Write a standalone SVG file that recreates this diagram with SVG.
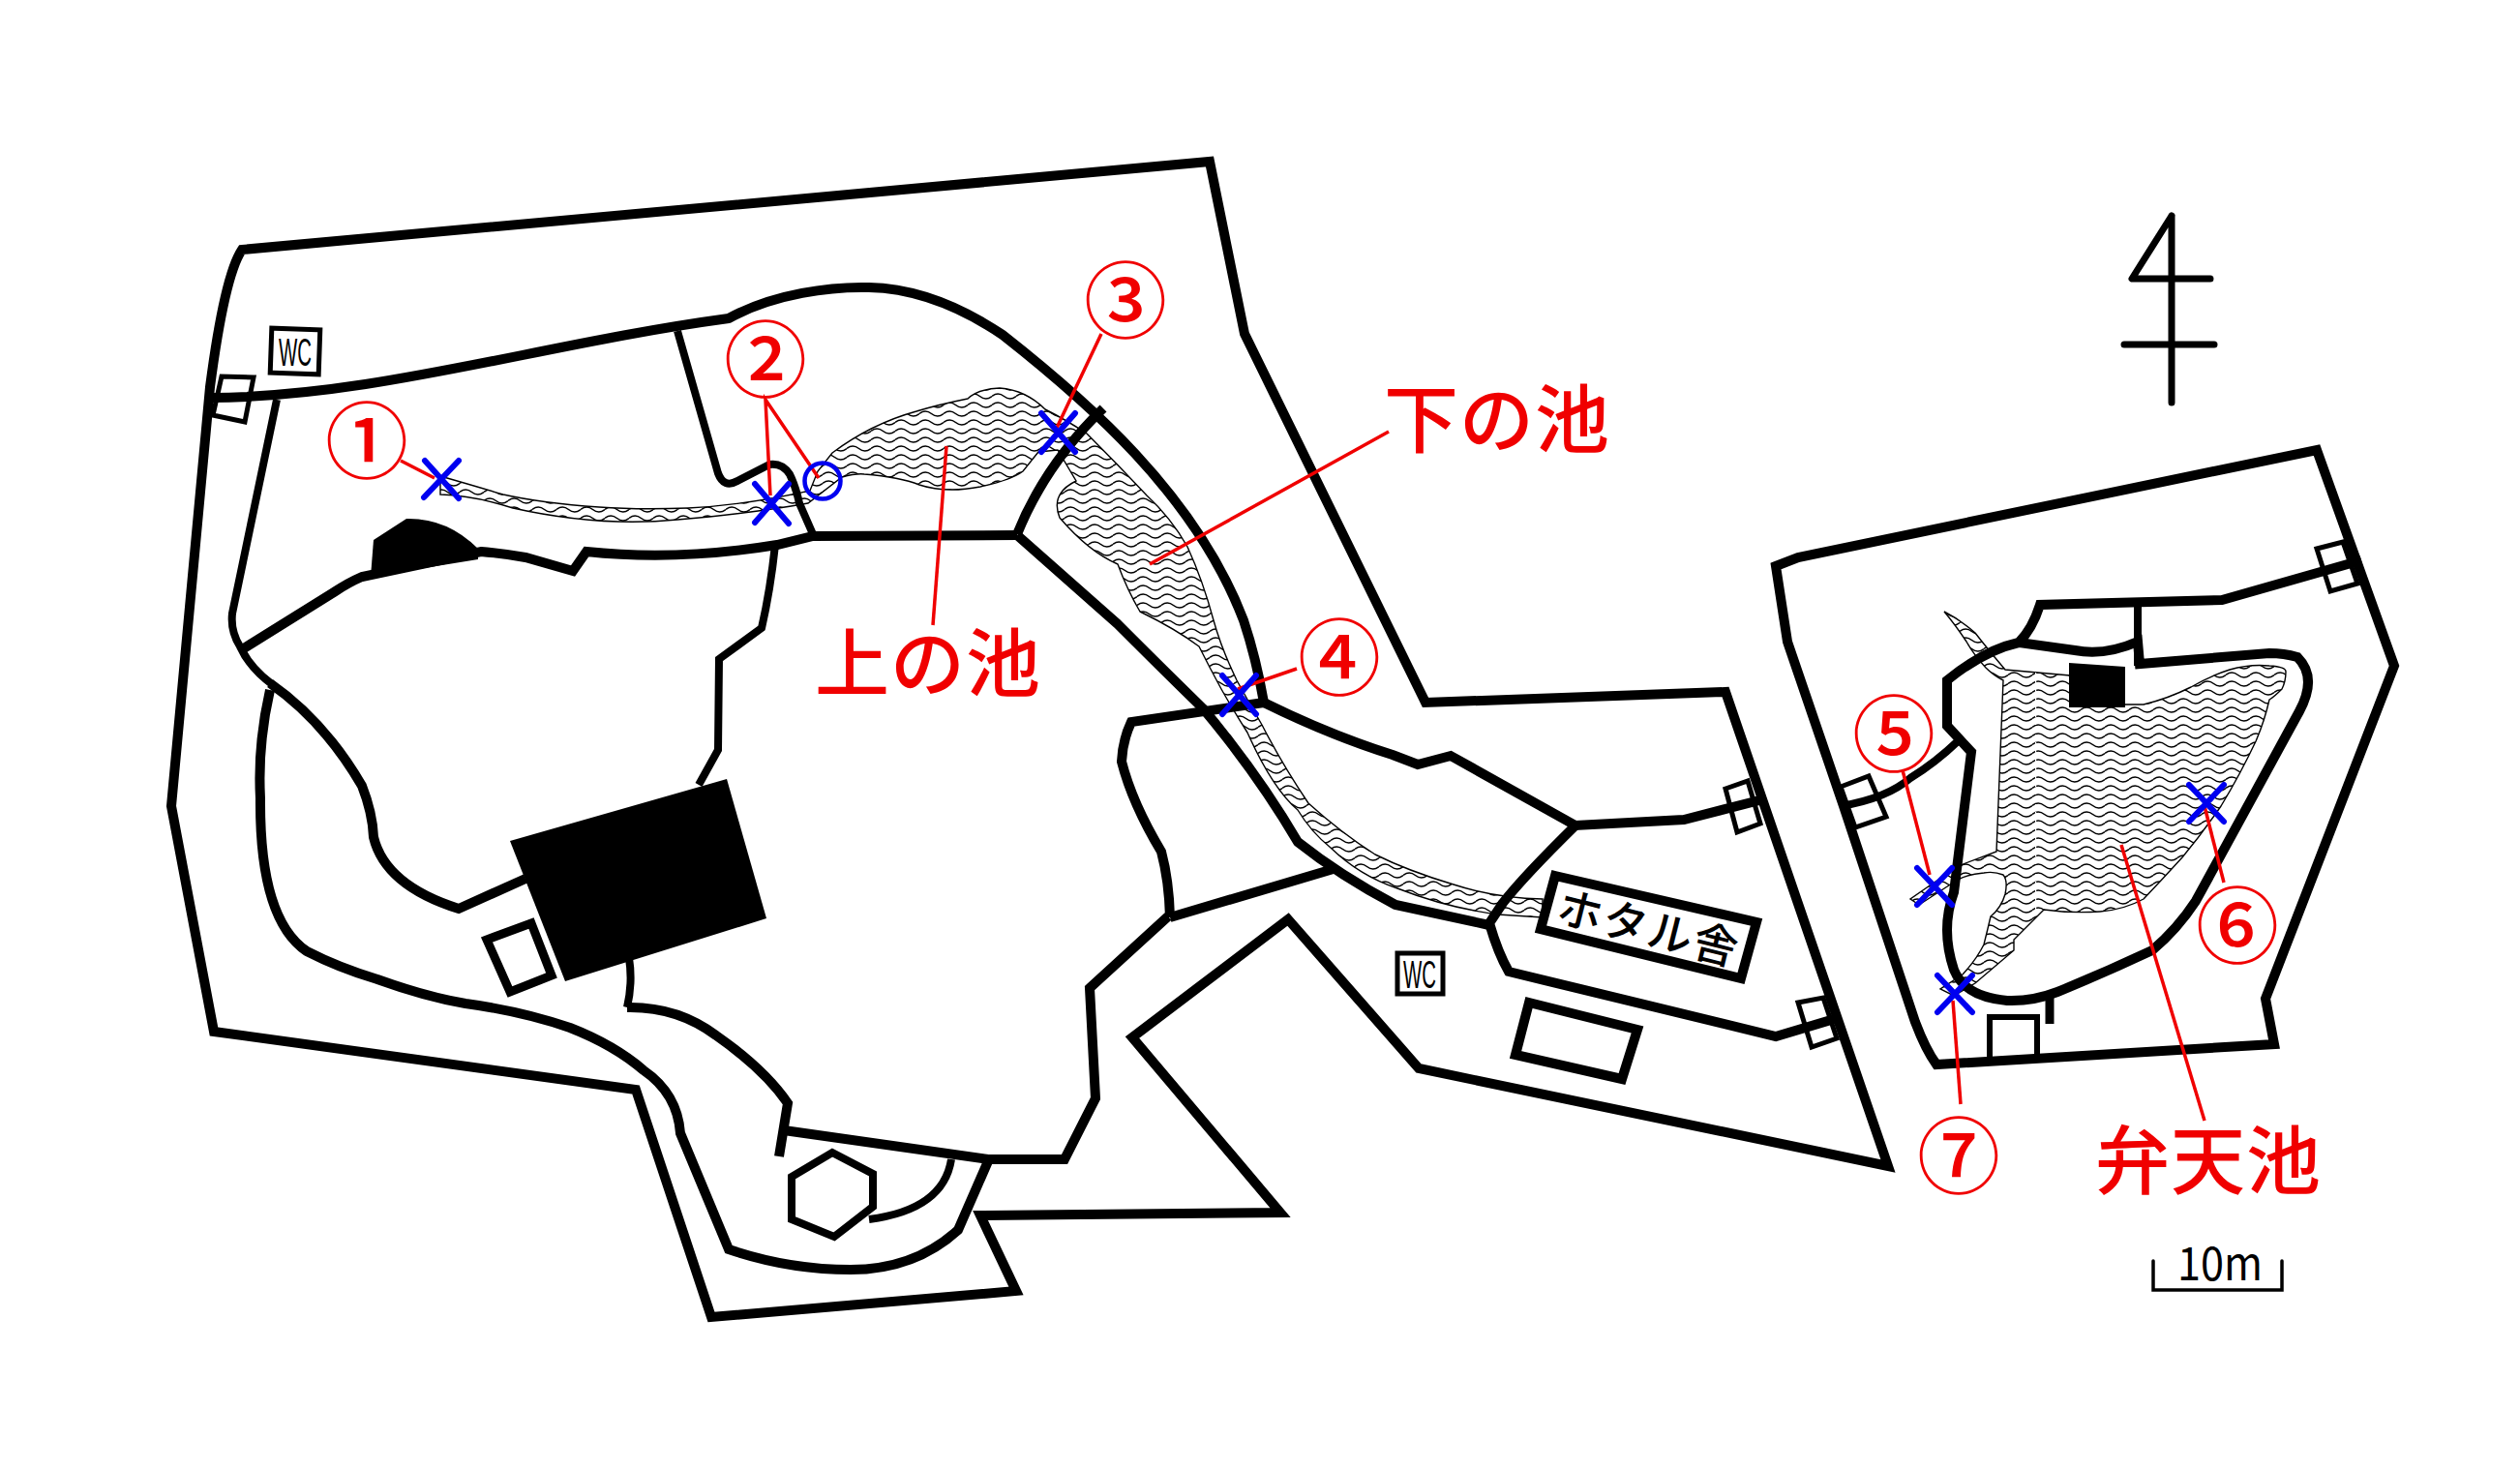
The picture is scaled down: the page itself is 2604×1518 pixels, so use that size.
<svg xmlns="http://www.w3.org/2000/svg" width="2604" height="1518" viewBox="0 0 2604 1518">
<style>
.r{fill:none;stroke:#000;stroke-width:10;stroke-linejoin:miter}
.t{fill:none;stroke:#000;stroke-width:8}
.g{fill:#fff;stroke:#000;stroke-width:5}
.b{fill:#000;stroke:none}
.h{fill:#fff;stroke:#000;stroke-width:10}
.pond{fill:url(#w);stroke:#000;stroke-width:1.4}
.x{fill:none;stroke:#0000f0;stroke-width:6;stroke-linecap:round}
.l{fill:none;stroke:#f00000;stroke-width:3.5}
.n{font-family:"Noto Sans CJK JP","Noto Sans CJK SC",sans-serif;font-size:86px;font-weight:500;fill:#f00000;text-anchor:middle}
.p{font-family:"Noto Sans CJK JP","Noto Sans CJK SC",sans-serif;font-size:77px;font-weight:500;fill:#f00000;letter-spacing:1px}
.wc{font-family:"Liberation Sans",sans-serif;font-size:40px;fill:#000}
</style>
<defs>
<pattern id="w" width="25" height="9" patternUnits="userSpaceOnUse">
<rect width="25" height="9" fill="#fff"/>
<path d="M0 4.5q6.25-5 12.5 0t12.5 0" fill="none" stroke="#000" stroke-width="1.6"/>
</pattern>
</defs>
<rect width="2604" height="1518" fill="#fff"/>
<g id="ponds">
<path class="pond" d="M455 492L455 511Q490 512 530 525Q620 545 700 537Q780 530 835 520L870 493Q885 489 893 490Q930 493 950 501Q977 510 1013 503Q1045 496 1057 487L1073 467L1093 465L1112 497Q1085 510 1095 535Q1125 570 1155 583Q1165 610 1178 632Q1215 650 1239 668Q1250 690 1262 712Q1275 735 1289 757Q1315 815 1341 837Q1355 860 1375 876Q1405 905 1444 918Q1495 938 1548 945L1594 948L1594 929Q1545 928 1502 914Q1455 900 1421 883Q1385 860 1352 830Q1325 790 1304 749Q1290 725 1278 703Q1262 670 1254 641Q1243 600 1227 565Q1210 535 1185 512Q1155 480 1123 448Q1100 433 1080 423Q1060 403 1033 401Q1010 402 1000 412Q970 418 947 425Q900 438 860 468L845 487L837 507Q770 522 711 525Q660 527 619 524Q560 520 520 511Q490 502 455 492Z"/>
<path class="pond" d="M2009 632Q2025 640 2041 654Q2055 672 2072 692L2139 698L2196 728L2215 728Q2240 722 2264 710Q2285 698 2304 692Q2325 686 2345 688Q2362 689 2362 694Q2362 704 2358 712Q2350 720 2345 723Q2340 745 2331 766Q2315 800 2295 833Q2275 862 2255 886Q2235 908 2215 929Q2195 940 2170 942Q2140 944 2112 940L2081 971L2081 982L2041 1016L2019 1029L2005 1022L2028 1007Q2042 992 2050 976Q2054 960 2057 947Q2068 938 2072 924Q2075 910 2070 904Q2060 900 2050 902Q2035 903 2023 909L1983 935L1974 929L2023 895L2063 880L2070 703Q2060 698 2052 690Q2040 677 2032 663Q2020 645 2009 632Z"/>
<path d="M2103.6 695V940" fill="none" stroke="#fff" stroke-width="1.2" stroke-dasharray="6 2"/>
</g>
<g id="gates">
<path class="g" d="M262 390L229 389L220 429L253 436Z"/>
<path class="g" d="M1783 815L1806 807L1819 851L1795 860Z"/>
<path class="g" d="M1858 1036L1884 1031L1898 1073L1872 1082Z"/>
<path class="g" d="M1902 813L1931 802L1949 844L1917 855Z"/>
<path class="g" d="M2394 567L2421 560L2436 603L2408 611Z"/>
</g>
<g id="connectors">
<path class="r" d="M250 258L1250 167L1286 345L1473 726L1783 715L1951 1205L1466 1104L1331 950L1170 1072L1323 1253L1013 1256L1050 1334L735 1361L657 1126L221 1066L177 833L217 400Q232 285 250 258Z"/>
<path class="r" d="M218 411C390 410 560 355 753 329C800 303 860 296 898 297C945 298 990 315 1036 346C1120 412 1235 510 1285 641Q1298 680 1306 726"/>
<path class="t" d="M700 342L742 489Q748 505 762 497L795 480Q808 478 816 490Q822 502 826 520L840 552"/>
<path class="r" d="M252 670L345 612Q360 602 374 596L497 570Q520 572 543 576L592 590L606 570Q700 580 803 563L840 554L1051 553"/>
<path class="t" d="M801 563Q796 610 787 649L743 681L742 775L722 811"/>
<path class="r" d="M1051 552Q1080 480 1140 422"/>
<path class="r" d="M1051 553L1155 645Q1205 695 1243 732Q1300 800 1341 870Q1385 905 1442 935L1539 956"/>
<path class="r" d="M1306 726L1169 746Q1160 765 1159 787Q1170 830 1200 880Q1208 910 1209 948"/>
<path class="r" d="M1209 948L1381 897"/>
<path class="r" d="M1207 947L1126 1021L1132 1135L1100 1198L1021 1198L810 1168"/>
<path class="r" d="M1306 726Q1375 760 1439 780L1465 790L1499 781L1628 853L1740 847L1822 826"/>
<path class="r" d="M1628 853Q1575 905 1553 933L1539 954Q1548 985 1559 1004L1835 1071L1902 1051"/>
<path class="t" d="M286 413L240 634Q238 652 248 668Q258 690 281 707"/>
<path class="r" d="M279 706Q335 745 374 812Q385 840 386 865Q398 915 474 939L543 908"/>
<path class="r" d="M279 713Q266 770 269 825Q268 950 317 983Q350 1000 390 1012Q440 1030 481 1037Q540 1045 589 1062Q635 1080 665 1106Q700 1130 703 1171L753 1291Q815 1312 879 1312Q945 1312 990 1271L1021 1200"/>
<path class="t" d="M650 990Q654 1015 648 1041"/>
<path class="r" d="M648 1041Q700 1040 740 1070Q790 1105 814 1140L805 1195"/>
<path class="t" d="M983 1198Q975 1250 898 1260"/>
<path class="r" d="M2086 664Q2050 672 2012 703L2012 750L2037 777L2019 922Q2005 960 2019 1002Q2030 1030 2074 1034Q2100 1035 2126 1025Q2175 1005 2224 982Q2250 960 2269 931L2376 735Q2395 700 2374 679Q2360 675 2345 675L2211 686L2209 663Q2175 678 2144 672L2086 664Q2100 650 2108 625L2296 620L2440 579"/>
<path class="t" d="M2209 625V688"/>
<path class="t" d="M2023 766Q2000 788 1974 804Q1950 825 1902 833"/>
<path class="r" d="M1835 585L1858 576L2394 465L2474 688L2341 1032L2350 1079L2001 1100Q1990 1085 1979 1056L1905 833L1847 663L1835 585Z"/>
<path d="M2118 1029V1058" fill="none" stroke="#000" stroke-width="9"/>
</g>
<g id="buildings">
<path class="b" d="M383 596L386 558L420 536Q462 535 494 567L494 578Z"/>
<path class="b" d="M527 869L751 805L792 949L584 1014Z"/>
<path class="h" d="M503 971L549 954L570 1008L527 1025Z" style="stroke-width:9"/>
<path class="t" d="M860 1191L902 1213L902 1247L862 1278L818 1260L818 1216Z"/>
<path class="h" d="M1580 1036L1692 1064L1676 1115L1566 1090Z"/>
<path class="b" d="M2138 685L2196 689L2196 731L2138 731Z"/>
<path d="M2056 1093V1051H2105V1090" fill="none" stroke="#000" stroke-width="6"/>
</g>
<g id="hotaru">
<path d="M1607 905L1815 953L1799 1011L1592 960Z" fill="#fff" stroke="#000" stroke-width="10"/>
<text x="1704" y="976" transform="rotate(14 1704 958)" text-anchor="middle" font-family="Noto Sans CJK JP,Noto Sans CJK SC,sans-serif" font-size="46" font-weight="500" letter-spacing="2">ホタル舎</text>
</g>
<g id="wc1"><rect x="280" y="340" width="50" height="46" fill="#fff" stroke="#000" stroke-width="5" transform="rotate(2 305 363)"/><text class="wc" x="288" y="378" textLength="34" lengthAdjust="spacingAndGlyphs">WC</text></g>
<g id="wc2"><rect x="1444" y="985" width="47" height="42" fill="#fff" stroke="#000" stroke-width="5"/><text class="wc" x="1450" y="1021" textLength="34" lengthAdjust="spacingAndGlyphs">WC</text></g>
<g id="north"><path d="M2244 223V416M2244 223L2203 288H2284M2195 356H2288" fill="none" stroke="#000" stroke-width="7" stroke-linecap="round" stroke-linejoin="round"/></g>
<g id="scale"><path d="M2225 1303V1333H2358V1303" fill="none" stroke="#000" stroke-width="3.5" stroke-linecap="round"/><text x="2250" y="1323" font-family="Noto Sans CJK JP,sans-serif" font-size="48" textLength="88" lengthAdjust="spacingAndGlyphs">10m</text></g>
<g id="leaders">
<path class="l" d="M414 476L449 494"/>
<path class="l" d="M796 512L791 413L846 494"/>
<path class="l" d="M1138 345L1092 442"/>
<path class="l" d="M978 461L964 646"/>
<path class="l" d="M1340 691L1279 712"/>
<path class="l" d="M1435 446L1188 583"/>
<path class="l" d="M1966 796L1994 904"/>
<path class="l" d="M2298 912L2278 833"/>
<path class="l" d="M2018 1034L2026 1141"/>
<path class="l" d="M2192 873L2278 1158"/>
</g>
<g id="marks">
<path class="x" d="M439 476L474 515M474 476L438 514"/>
<path class="x" d="M780 500L815 541M815 500L780 540"/>
<path class="x" d="M1076 427L1111 467M1111 427L1076 467"/>
<path class="x" d="M1263 698L1298 738M1298 698L1263 738"/>
<path class="x" d="M1981 897L2017 935M2017 897L1981 935"/>
<path class="x" d="M2262 811L2298 849M2298 811L2262 849"/>
<path class="x" d="M2002 1008L2038 1046M2038 1008L2002 1046"/>
<circle cx="850" cy="497" r="18.5" fill="none" stroke="#0000f0" stroke-width="4.5"/>
</g>
<g id="labels">
<text class="n" x="379" y="488">①</text>
<text class="n" x="791" y="404">②</text>
<text class="n" x="1163" y="343">③</text>
<text class="n" x="1384" y="712">④</text>
<text class="n" x="1957" y="791">⑤</text>
<text class="n" x="2312" y="989">⑥</text>
<text class="n" x="2024" y="1227">⑦</text>
<text class="p" x="842" y="714">上の池</text>
<text class="p" x="1430" y="462">下の池</text>
<text class="p" x="2165" y="1228">弁天池</text>
</g>
</svg>
